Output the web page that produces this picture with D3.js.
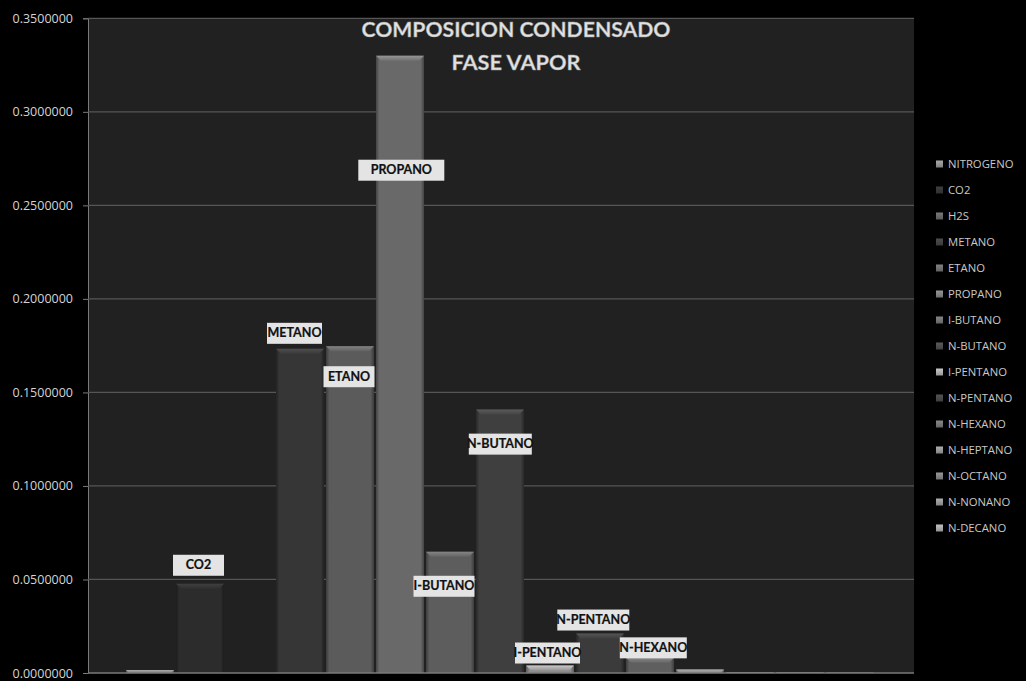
<!DOCTYPE html>
<html>
<head>
<meta charset="utf-8">
<script src="https://cdn.jsdelivr.net/npm/d3@7"></script>
<style>
  body { margin: 0; background: #000; }
  svg { display: block; }
</style>
</head>
<body>
<div id="chart"></div>
<script>
// data
const componentes = ["NITROGENO", "CO2", "H2S", "METANO", "ETANO", "PROPANO", "I-BUTANO", "N-BUTANO",
  "I-PENTANO", "N-PENTANO", "N-HEXANO", "N-HEPTANO", "N-OCTANO", "N-NONANO", "N-DECANO"];
const fraccion = [0.0016, 0.0477, 0.0, 0.1733, 0.1747, 0.3300, 0.0648, 0.1408,
  0.0040, 0.0211, 0.0081, 0.0019, 0.0005, 0.0003, 0.0002];
const yTicks = [0, 0.05, 0.10, 0.15, 0.20, 0.25, 0.30, 0.35];
const titulo = ["COMPOSICION CONDENSADO", "FASE VAPOR"];

// grey shades of each series
const grises = ["#767676", "#2c2c2c", "#555555", "#363636", "#5b5b5b", "#696969", "#5d5d5d", "#3f3f3f",
  "#8c8c8c", "#3b3b3b", "#5f5f5f", "#7a7a7a", "#6a6a6a", "#7a7a7a", "#888888"];

// where the data labels sit: "above" the bar or "inside" just under its top, dx shift, box width
const etiquetas = {
  "CO2": {pos: "above", dx: -1.5, w: 51, gap: 8},
  "METANO": {pos: "above", dx: -5.5, w: 55, gap: 5},
  "ETANO": {pos: "inside", dx: -1, w: 51, gap: 20},
  "PROPANO": {pos: "inside", dx: 1.3, w: 86, gap: 104},
  "I-BUTANO": {pos: "inside", dx: -6, w: 61, gap: 24},
  "N-BUTANO": {pos: "inside", dx: 0.3, w: 63, gap: 24},
  "I-PENTANO": {pos: "above", dx: -2.5, w: 65, gap: 2},
  "N-PENTANO": {pos: "above", dx: -6.7, w: 72, gap: 3},
  "N-HEXANO": {pos: "above", dx: 3.3, w: 67, gap: -0.5}
};

const W = 1026, H = 681;
const plot = {left: 88, right: 914, top: 18.3, bottom: 673};

const svg = d3.select("#chart").append("svg")
  .attr("width", W).attr("height", H);

svg.append("rect").attr("width", W).attr("height", H).attr("fill", "#000");
svg.append("rect")
  .attr("x", plot.left).attr("y", plot.top)
  .attr("width", plot.right - plot.left).attr("height", plot.bottom - plot.top)
  .attr("fill", "#212121");

const x = d3.scaleBand()
  .domain(componentes)
  .range([124, 876])
  .paddingInner(0.04)
  .paddingOuter(0.04);

const y = d3.scaleLinear()
  .domain([0, 0.35])
  .range([plot.bottom, plot.top]);

// gridlines + y axis
const yAxis = svg.append("g")
  .attr("transform", `translate(${plot.left},0)`)
  .call(d3.axisLeft(y).tickValues(yTicks).tickFormat(d3.format(".7f")).tickSize(5).tickPadding(10));
yAxis.select(".domain").attr("stroke", "#7a7a7a");
yAxis.selectAll(".tick line").attr("stroke", "#7a7a7a");
yAxis.selectAll(".tick text")
  .attr("fill", "#d4d4d4")
  .style("font-family", "'Open Sans', sans-serif")
  .style("font-size", "12.5px");

svg.append("g")
  .selectAll("line")
  .data(yTicks.slice(1))
  .enter()
  .append("line")
    .attr("x1", plot.left).attr("x2", plot.right)
    .attr("y1", d => y(d)).attr("y2", d => y(d))
    .attr("stroke", "#565656")
    .attr("stroke-width", 1.3);

// gradients for the bevelled bars
const defs = svg.append("defs");
componentes.forEach(function (c, i) {
  const base = d3.color(grises[i]);
  const g = defs.append("linearGradient").attr("id", "grad" + i)
    .attr("x1", "0%").attr("x2", "100%").attr("y1", "0%").attr("y2", "0%");
  g.append("stop").attr("offset", "0%").attr("stop-color", base.darker(1.2));
  g.append("stop").attr("offset", "7%").attr("stop-color", base);
  g.append("stop").attr("offset", "93%").attr("stop-color", base);
  g.append("stop").attr("offset", "100%").attr("stop-color", base.darker(1.2));
  const gv = defs.append("linearGradient").attr("id", "top" + i)
    .attr("x1", "0%").attr("x2", "0%").attr("y1", "0%").attr("y2", "100%");
  gv.append("stop").attr("offset", "0%").attr("stop-color", base.brighter(1.0));
  gv.append("stop").attr("offset", "100%").attr("stop-color", base.brighter(0.2));
});

const bars = svg.append("g")
  .selectAll("g")
  .data(componentes.map((c, i) => ({name: c, value: fraccion[i], i: i})))
  .enter()
  .append("g");

bars.filter(d => d.value > 0)
  .append("rect")
    .attr("x", d => x(d.name))
    .attr("y", d => y(d.value))
    .attr("width", x.bandwidth())
    .attr("height", d => y(0) - y(d.value))
    .attr("fill", d => "url(#grad" + d.i + ")");

// bevel on top of each bar
bars.filter(d => d.value > 0)
  .append("path")
    .attr("d", function (d) {
      const x0 = x(d.name), x1 = x0 + x.bandwidth(), t = y(d.value);
      const h = Math.min(5, y(0) - t);
      return `M${x0},${t}L${x1},${t}L${x1 - h},${t + h}L${x0 + h},${t + h}Z`;
    })
    .attr("fill", d => "url(#top" + d.i + ")");

svg.append("line")
  .attr("x1", plot.left).attr("x2", plot.right)
  .attr("y1", plot.bottom).attr("y2", plot.bottom)
  .attr("stroke", "#7a7a7a").attr("stroke-width", 1.5);

// data labels
const labelData = componentes
  .map((c, i) => ({name: c, value: fraccion[i]}))
  .filter(d => etiquetas[d.name]);

const lab = svg.append("g")
  .selectAll("g")
  .data(labelData)
  .enter()
  .append("g")
    .attr("transform", function (d) {
      const e = etiquetas[d.name];
      const cx = x(d.name) + x.bandwidth() / 2 + e.dx;
      const top = y(d.value);
      const by = e.pos === "above" ? top - e.gap - 21 : top + e.gap;
      return `translate(${cx},${by})`;
    });

lab.append("rect")
  .attr("x", d => -etiquetas[d.name].w / 2)
  .attr("y", 0)
  .attr("width", d => etiquetas[d.name].w)
  .attr("height", 21)
  .attr("fill", "#e4e4e4");

lab.append("text")
  .attr("x", 0)
  .attr("y", 14.5)
  .attr("text-anchor", "middle")
  .style("font-family", "Lato, sans-serif")
  .style("font-weight", "bold")
  .style("font-size", "12.5px")
  .attr("fill", "#111")
  .attr("stroke", "#111")
  .attr("stroke-width", 0.2)
  .text(d => d.name);

// title
svg.append("g")
  .selectAll("text")
  .data(titulo)
  .enter()
  .append("text")
    .attr("x", 516)
    .attr("y", (d, i) => 37 + i * 32.5)
    .attr("text-anchor", "middle")
    .style("font-family", "Lato, sans-serif")
    .style("font-weight", "bold")
    .style("font-size", "21px")
    .attr("fill", "#e2e2e2")
    .attr("stroke", "#9a9a9a")
    .attr("stroke-width", 0.4)
    .attr("textLength", (d, i) => i === 0 ? 309 : 129)
    .attr("lengthAdjust", "spacingAndGlyphs")
    .text(d => d);

// legend
const legend = svg.append("g")
  .selectAll("g")
  .data(componentes)
  .enter()
  .append("g")
    .attr("transform", (d, i) => `translate(936,${164 + i * 26})`);

legend.append("rect")
  .attr("x", 0).attr("y", -3.5)
  .attr("width", 7).attr("height", 7)
  .attr("fill", (d, i) => "url(#top" + i + ")");

legend.append("text")
  .attr("x", 12)
  .attr("y", 4)
  .style("font-family", "'Open Sans', sans-serif")
  .style("font-size", "11.3px")
  .attr("fill", "#c8c8c8")
  .text(d => d);
</script>
</body>
</html>
